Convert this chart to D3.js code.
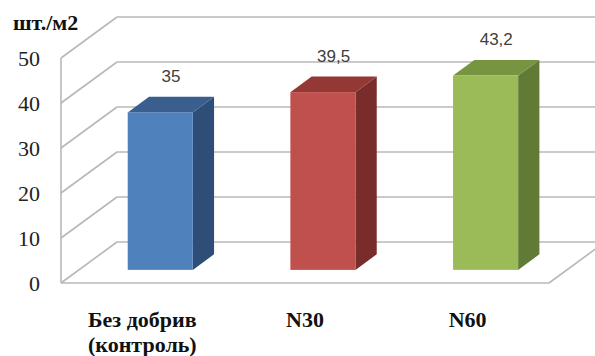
<!DOCTYPE html>
<html><head><meta charset="utf-8"><script src="https://cdn.jsdelivr.net/npm/d3@7"></script></head><body style="margin:0">
<script>
const categories = [["Без добрив","(контроль)"],["N30"],["N60"]];
const values = [35, 39.5, 43.2];
const valueLabels = ["35", "39,5", "43,2"];
const tickValues = [0, 10, 20, 30, 40, 50];
const unitLabel = "шт./м2";
const frontColors = ["#4F81BD", "#C0504D", "#9BBB59"];
const topColors = ["#3A5F8E", "#943836", "#779441"];
const sideColors = ["#2F4E77", "#782D2B", "#617A35"];

const W = 595, H = 356;
const svg = d3.select("body").append("svg").attr("width", W).attr("height", H);

const x0 = 61, x1 = 549;
const y = d3.scaleLinear().domain([0, 50]).range([283, 58]);
const xb = d3.scaleBand().domain(d3.range(categories.length)).range([x0, x1]).paddingInner(0.6).paddingOuter(0.3);
const depth = {dx: 56, dy: -41};
const off = t => [depth.dx * t, depth.dy * t];
const zFront = 0.32, zBack = 0.70;
const grid = "#B8B8B8";

const g = svg.append("g");
const [bdx, bdy] = off(1);
tickValues.forEach(v => {
  g.append("line").attr("x1", x0 + bdx).attr("x2", W + 20)
    .attr("y1", y(v) + bdy).attr("y2", y(v) + bdy)
    .attr("stroke", grid).attr("stroke-width", 1.6);
  g.append("line").attr("x1", x0).attr("y1", y(v))
    .attr("x2", x0 + bdx).attr("y2", y(v) + bdy)
    .attr("stroke", grid).attr("stroke-width", 1.6);
});
g.append("line").attr("x1", x0).attr("x2", x0).attr("y1", y(0)).attr("y2", y(50))
  .attr("stroke", grid).attr("stroke-width", 1.6);
g.append("line").attr("x1", x0).attr("x2", x1).attr("y1", y(0)).attr("y2", y(0))
  .attr("stroke", grid).attr("stroke-width", 1.6);
g.append("line").attr("x1", x1).attr("y1", y(0)).attr("x2", x1 + bdx).attr("y2", y(0) + bdy)
  .attr("stroke", grid).attr("stroke-width", 1.6);

const [fdx, fdy] = off(zFront), [kdx, kdy] = off(zBack);
const pts = p => p.map(q => q.join(",")).join(" ");
values.forEach((v, i) => {
  const a = xb(i), b = xb(i) + xb.bandwidth();
  const yt = y(v), y0 = y(0);
  g.append("polygon").attr("points", pts([[b + fdx, yt + fdy], [b + kdx, yt + kdy], [b + kdx, y0 + kdy], [b + fdx, y0 + fdy]]))
    .attr("fill", sideColors[i]);
  g.append("polygon").attr("points", pts([[a + fdx, yt + fdy], [b + fdx, yt + fdy], [b + kdx, yt + kdy], [a + kdx, yt + kdy]]))
    .attr("fill", topColors[i]);
  g.append("rect").attr("x", a + fdx).attr("y", yt + fdy).attr("width", b - a).attr("height", y0 - yt)
    .attr("fill", frontColors[i]);
  svg.append("text").attr("font-family", "Liberation Sans").style("font-family", "'Liberation Sans'")
    .attr("x", (a + b) / 2 + (fdx + kdx) / 2).attr("y", yt + fdy - 30)
    .attr("text-anchor", "middle").attr("font-size", 17).attr("fill", "#404040").text(valueLabels[i]);
});

tickValues.forEach(v => {
  svg.append("text").attr("font-family", "Liberation Serif").style("font-family", "'Liberation Serif'")
    .attr("x", 40).attr("y", y(v) + 8).attr("text-anchor", "end")
    .attr("font-size", 22).attr("fill", "#222").text(String(v));
});
svg.append("text").attr("font-family", "Liberation Serif").style("font-family", "'Liberation Serif'")
  .attr("x", 13).attr("y", 30).attr("font-weight", "bold").attr("font-size", 22).attr("fill", "#111").text(unitLabel);

categories.forEach((lines, i) => {
  const cx = xb(i) + xb.bandwidth() / 2;
  lines.forEach((l, j) => svg.append("text").attr("font-family", "Liberation Serif").style("font-family", "'Liberation Serif'")
    .attr("text-anchor", "middle").attr("font-weight", "bold").attr("font-size", 22).attr("fill", "#111")
    .attr("x", cx).attr("y", 327 + j * 25).text(l));
});
</script></body></html>
